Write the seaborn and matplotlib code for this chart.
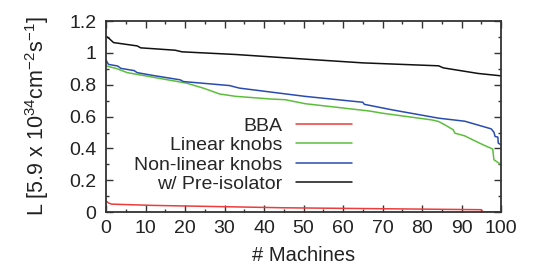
import pandas as pd
import seaborn as sns
from matplotlib import pyplot as plt

# values
bba_x = [0, 0.6, 1.4, 11.8, 45, 95, 95.4, 100]
bba_y = [0.071, 0.057, 0.05, 0.042, 0.027, 0.015, 0.0, 0.0]

lin_x = [0, 2.5, 5.4, 12, 20.4, 24.6, 28.75, 32.9, 42, 45.4, 50.4, 66.7, 70, 82.5, 84.2, 85.8, 87.9, 88.3,
         90.8, 94.2, 95.8, 97.9, 98.2, 100]
lin_y = [0.918, 0.903, 0.876, 0.847, 0.81, 0.779, 0.742, 0.727, 0.71, 0.706, 0.681, 0.635, 0.621, 0.579,
         0.569, 0.548, 0.517, 0.496, 0.479, 0.4375, 0.419, 0.396, 0.329, 0.298]

nonlin_x = [0, 0.6, 2.9, 3.75, 7.1, 7.9, 12, 18.75, 19.6, 31.25, 33.75, 50.4, 65, 65.4, 72.5, 84.2, 90.8,
            97.5, 98.2, 98.5, 99.2, 99.3, 100]
nonlin_y = [0.955, 0.928, 0.918, 0.903, 0.889, 0.876, 0.858, 0.831, 0.82, 0.795, 0.779, 0.727, 0.69, 0.677,
            0.642, 0.59, 0.571, 0.523, 0.502, 0.475, 0.471, 0.433, 0.423]

pre_x = [0, 0.8, 1.9, 7.9, 8.75, 17.5, 19.2, 32.9, 50.4, 65, 84.2, 85.4, 94.2, 100]
pre_y = [1.105, 1.09, 1.065, 1.044, 1.032, 1.017, 1.007, 0.99, 0.961, 0.9375, 0.919, 0.906, 0.871, 0.856]

labels = ['BBA', 'Linear knobs', 'Non-linear knobs', 'w/ Pre-isolator']
colors = ['#ee3b3b', '#5cbf3c', '#2a4cb0', '#111111']

sns.set_style('ticks')
plt.rcParams['font.family'] = ['Liberation Sans', 'DejaVu Sans']
plt.rcParams['mathtext.fontset'] = 'custom'
plt.rcParams['mathtext.rm'] = 'Liberation Sans'
plt.rcParams['mathtext.it'] = 'Liberation Sans'
plt.rcParams['mathtext.default'] = 'regular'

frames = []
for name, xs, ys in zip(labels, [bba_x, lin_x, nonlin_x, pre_x], [bba_y, lin_y, nonlin_y, pre_y]):
    frames.append(pd.DataFrame({'x': xs, 'y': ys, 'series': name}))
data = pd.concat(frames, ignore_index=True)

fig, ax = plt.subplots(figsize=(5.33, 2.74), dpi=100)
fig.subplots_adjust(left=0.199, right=0.94, bottom=0.226, top=0.923)

sns.lineplot(data=data, x='x', y='y', hue='series', palette=colors, hue_order=labels,
             sort=False, estimator=None, linewidth=1.1, ax=ax)

ax.set_xlim(0, 100)
ax.set_ylim(0, 1.2)
ax.set_xticks(range(0, 101, 10))
ax.set_xticks(range(5, 100, 10), minor=True)
ax.set_yticks([0, 0.2, 0.4, 0.6, 0.8, 1.0, 1.2])
ax.set_yticks([0.1, 0.3, 0.5, 0.7, 0.9, 1.1], minor=True)
ax.set_yticklabels(['0', '0.2', '0.4', '0.6', '0.8', '1', '1.2'])
ax.tick_params(which='both', direction='in', top=True, right=True, colors='#333333',
               labelcolor='#222222', labelsize=14, width=1)
ax.tick_params(which='major', length=5, pad=6)
ax.tick_params(axis='y', which='major', pad=7)
ax.tick_params(which='minor', length=2.5)
for s in ax.spines.values():
    s.set_color('#333333')
    s.set_linewidth(1.3)

ax.set_xlabel('# Machines', fontsize=14.5, color='#222222', labelpad=6)
ax.set_ylabel('L [5.9 x 10$^{34}$cm$^{-2}$s$^{-1}$]', fontsize=15.5, color='#222222', labelpad=13)

ax.legend(loc='center right', bbox_to_anchor=(0.623, 0.298), frameon=False, markerfirst=False,
          fontsize=14, handlelength=2.9, handletextpad=0.7, labelspacing=0.1,
          borderpad=0, borderaxespad=0)

plt.savefig('out.png', dpi=100)
